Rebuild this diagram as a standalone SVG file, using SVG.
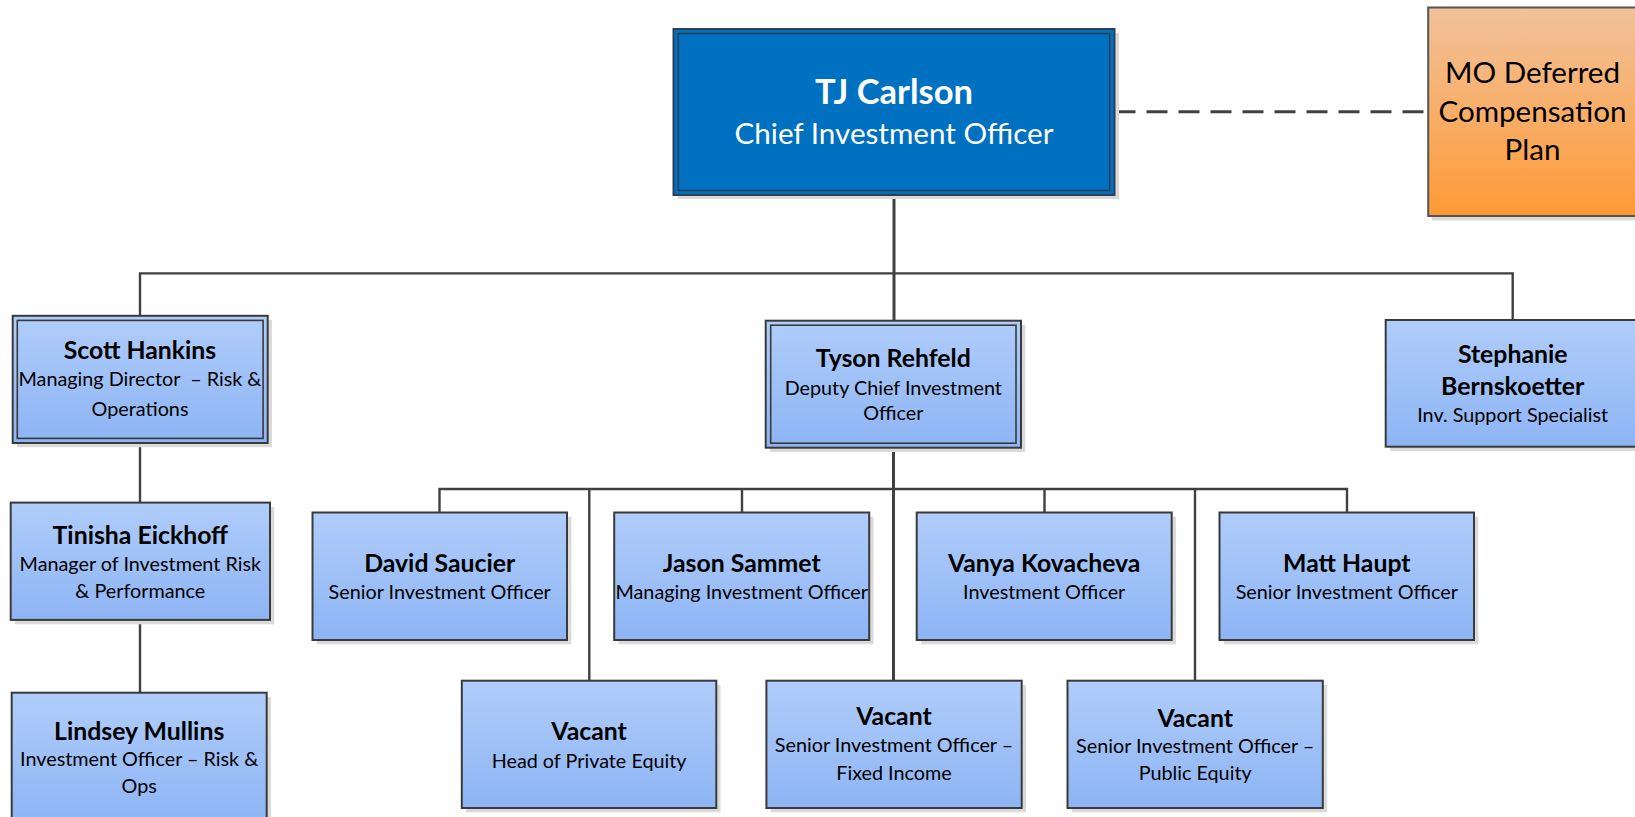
<svg xmlns="http://www.w3.org/2000/svg" width="1635" height="817" viewBox="0 0 1635 817">
<defs>
<linearGradient id="blue" x1="0" y1="0" x2="0" y2="1">
<stop offset="0" stop-color="#B0CDFA"/>
<stop offset="1" stop-color="#8DB4F4"/>
</linearGradient>
<linearGradient id="orange" x1="0" y1="0" x2="0" y2="1">
<stop offset="0" stop-color="#F1C29B"/>
<stop offset="1" stop-color="#FE9A36"/>
</linearGradient>
<style>
text{font-family:Lato,"Open Sans","Liberation Sans",sans-serif;text-anchor:middle;fill:#000}
.shadow{fill:#DADADA}
.box{fill:url(#blue);stroke:#3A3A3A;stroke-width:2}
.inner{fill:none;stroke:#3A3A3A;stroke-width:1.6}
.cio{fill:#0070C0;stroke:#2D3F55;stroke-width:2}
.cioin{fill:none;stroke:#2D3F55;stroke-width:1.6}
.mo{fill:url(#orange);stroke:#555;stroke-width:2}
.name{font-weight:bold;font-size:24.8px}
.title{font-size:19.8px}
.bigname{font-weight:bold;font-size:34.5px;fill:#fff}
.bigtitle{font-size:29.6px;fill:#fff}
.motext{font-size:29.6px}
.conn{fill:none;stroke:#404040;stroke-width:2.4}
.thick{stroke-width:3}
.dash{fill:none;stroke:#404040;stroke-width:3;stroke-dasharray:21 11}
</style>
</defs>
<rect width="1635" height="817" fill="#fff"/>
<g id="connectors">
<path class="conn thick" d="M894 195V320.7"/>
<path class="conn" d="M140 315.8V273.4H1512.7V320"/>
<path class="conn" d="M140 443V502.6"/>
<path class="conn" d="M140 620V692.7"/>
<path class="conn thick" d="M893.5 447.7V680.7"/>
<path class="conn" d="M439.5 512.5V489H1347V512.5"/>
<path class="conn" d="M742 489V512.5"/>
<path class="conn" d="M1044.5 489V512.5"/>
<path class="conn" d="M589.3 489V680.7"/>
<path class="conn" d="M1195 489V680.7"/>
<path class="dash" d="M1114.5 111.7H1428"/>
</g>
<g id="tj-carlson">
<rect class="shadow" x="678" y="33" width="441" height="166"/>
<rect class="cio" x="673.5" y="29" width="441" height="166"/>
<rect class="cioin" x="678.3" y="33.5" width="431.4" height="157"/>
<text class="bigname" x="894" y="104">TJ Carlson</text>
<text class="bigtitle" x="894" y="144">Chief Investment Officer</text>
</g>
<g id="mo-deferred">
<rect class="shadow" x="1432" y="11.5" width="210" height="209"/>
<rect class="mo" x="1428.2" y="7.5" width="210" height="208.5"/>
<text class="motext" x="1532.5" y="82.7">MO Deferred</text>
<text class="motext" x="1532.5" y="121.7">Compensation</text>
<text class="motext" x="1532.5" y="160">Plan</text>
</g>
<g id="scott-hankins">
<rect class="shadow" x="17" y="320" width="255" height="127.2"/>
<rect class="box" x="12.7" y="315.8" width="255" height="127.2"/>
<rect class="inner" x="17.3" y="320.4" width="245.8" height="118"/>
<text class="name" x="140" y="358.8">Scott Hankins</text>
<text class="title" x="140" y="386" style="white-space:pre">Managing Director  – Risk &amp;</text>
<text class="title" x="140" y="416.3">Operations</text>
</g>
<g id="tinisha-eickhoff">
<rect class="shadow" x="15" y="507" width="259.3" height="117.3"/>
<rect class="box" x="10.7" y="502.6" width="259.3" height="117.3"/>
<text class="name" x="140.3" y="544.2">Tinisha Eickhoff</text>
<text class="title" x="140.3" y="570.8">Manager of Investment Risk</text>
<text class="title" x="140.3" y="597.5">&amp; Performance</text>
</g>
<g id="lindsey-mullins">
<rect class="shadow" x="16" y="697" width="255" height="130"/>
<rect class="box" x="11.7" y="692.7" width="255" height="130"/>
<text class="name" x="139.2" y="739.6">Lindsey Mullins</text>
<text class="title" x="139.2" y="766.2">Investment Officer – Risk &amp;</text>
<text class="title" x="139.2" y="792.9">Ops</text>
</g>
<g id="tyson-rehfeld">
<rect class="shadow" x="770" y="325" width="255.3" height="127"/>
<rect class="box" x="765.7" y="320.7" width="255.3" height="127"/>
<rect class="inner" x="770.7" y="325.2" width="245.3" height="118"/>
<text class="name" x="893.3" y="366.7">Tyson Rehfeld</text>
<text class="title" x="893.3" y="395">Deputy Chief Investment</text>
<text class="title" x="893.3" y="420">Officer</text>
</g>
<g id="stephanie-bernskoetter">
<rect class="shadow" x="1390" y="324.3" width="255" height="126.7"/>
<rect class="box" x="1385.7" y="320" width="255" height="126.7"/>
<text class="name" x="1512.7" y="363.3">Stephanie</text>
<text class="name" x="1512.7" y="395">Bernskoetter</text>
<text class="title" x="1512.7" y="421.7">Inv. Support Specialist</text>
</g>
<g id="david-saucier">
<rect class="shadow" x="316.8" y="516.8" width="254.5" height="127.5"/>
<rect class="box" x="312.5" y="512.5" width="254.5" height="127.5"/>
<text class="name" x="439.7" y="571.7">David Saucier</text>
<text class="title" x="439.7" y="599">Senior Investment Officer</text>
</g>
<g id="jason-sammet">
<rect class="shadow" x="618.5" y="516.8" width="255" height="127.5"/>
<rect class="box" x="614.2" y="512.5" width="255" height="127.5"/>
<text class="name" x="741.7" y="571.7">Jason Sammet</text>
<text class="title" x="741.7" y="599">Managing Investment Officer</text>
</g>
<g id="vanya-kovacheva">
<rect class="shadow" x="921" y="516.8" width="255" height="127.5"/>
<rect class="box" x="916.7" y="512.5" width="255" height="127.5"/>
<text class="name" x="1044.2" y="571.7">Vanya Kovacheva</text>
<text class="title" x="1044.2" y="599.3">Investment Officer</text>
</g>
<g id="matt-haupt">
<rect class="shadow" x="1223.8" y="516.8" width="254.5" height="127.5"/>
<rect class="box" x="1219.5" y="512.5" width="254.5" height="127.5"/>
<text class="name" x="1346.8" y="571.7">Matt Haupt</text>
<text class="title" x="1346.8" y="599.3">Senior Investment Officer</text>
</g>
<g id="vacant-private-equity">
<rect class="shadow" x="466" y="685" width="254.5" height="127.3"/>
<rect class="box" x="461.8" y="680.7" width="254.5" height="127.3"/>
<text class="name" x="589.1" y="740">Vacant</text>
<text class="title" x="589.1" y="767.7">Head of Private Equity</text>
</g>
<g id="vacant-fixed-income">
<rect class="shadow" x="770.7" y="685" width="255.3" height="127.3"/>
<rect class="box" x="766.4" y="680.7" width="255.3" height="127.3"/>
<text class="name" x="894" y="725">Vacant</text>
<text class="title" x="894" y="751.7">Senior Investment Officer –</text>
<text class="title" x="894" y="780">Fixed Income</text>
</g>
<g id="vacant-public-equity">
<rect class="shadow" x="1071.8" y="685" width="255.3" height="127.3"/>
<rect class="box" x="1067.5" y="680.7" width="255.3" height="127.3"/>
<text class="name" x="1195.2" y="726.7">Vacant</text>
<text class="title" x="1195.2" y="753.3">Senior Investment Officer –</text>
<text class="title" x="1195.2" y="780">Public Equity</text>
</g>
</svg>
